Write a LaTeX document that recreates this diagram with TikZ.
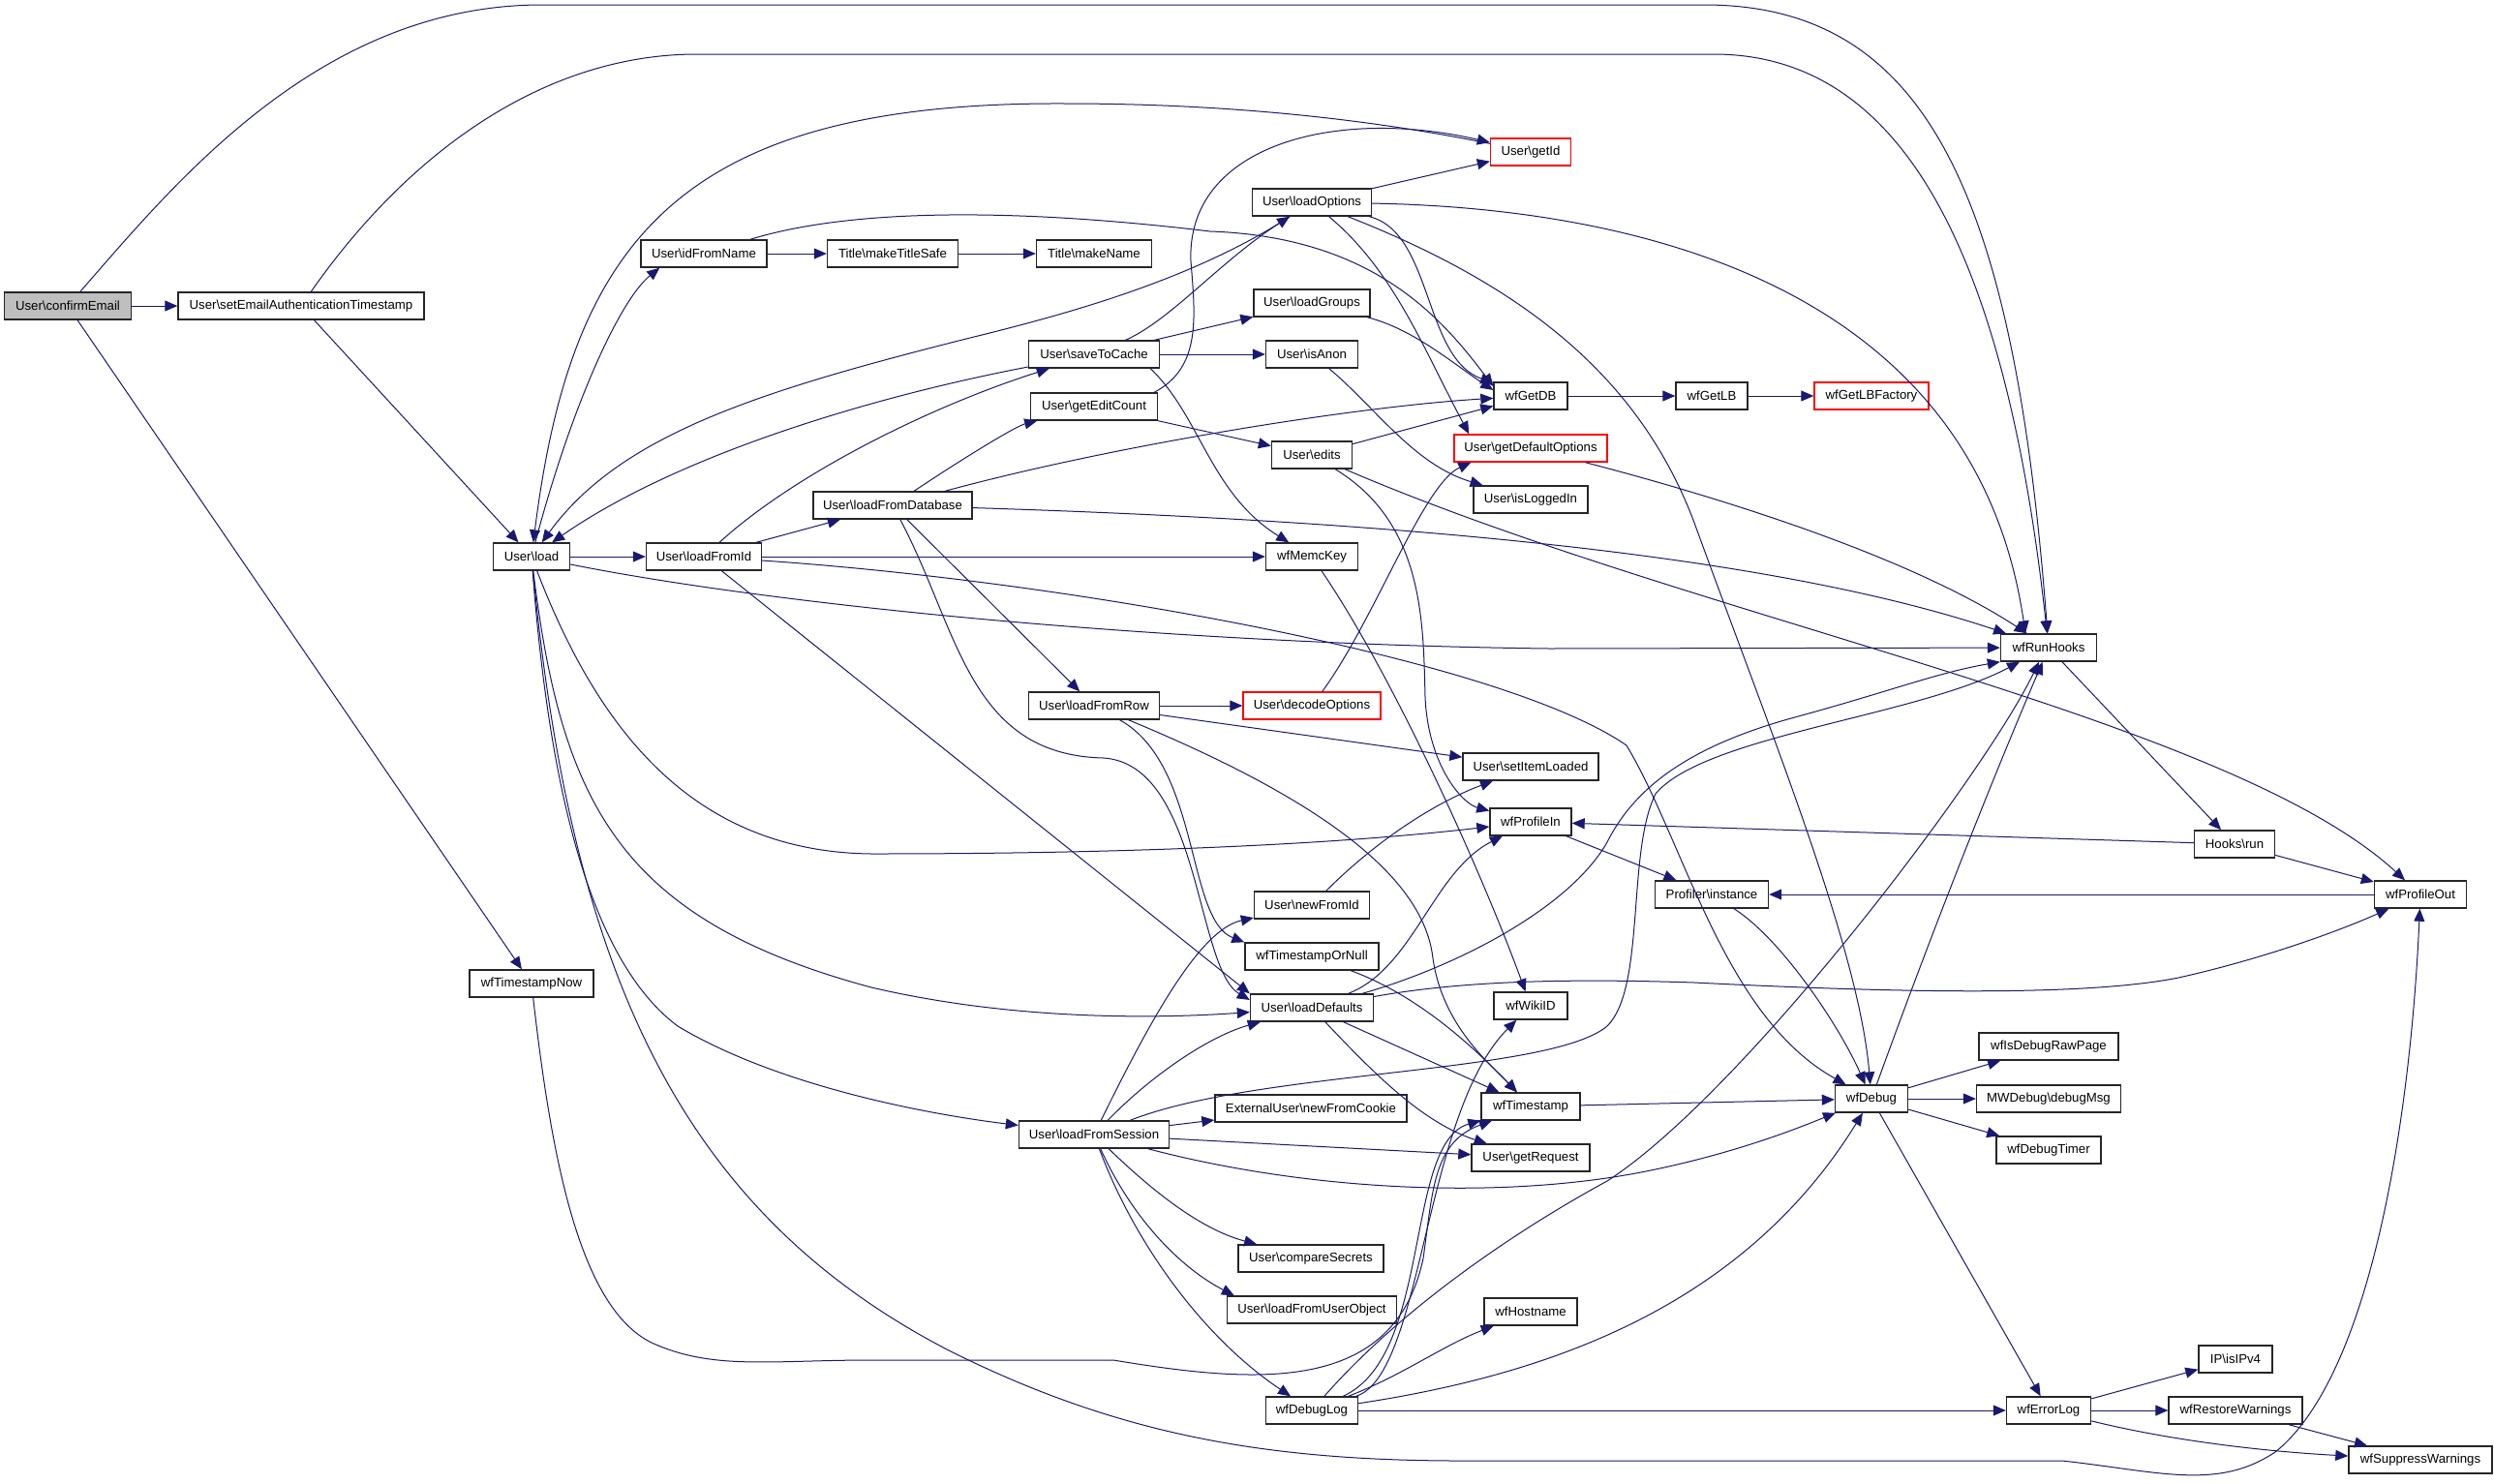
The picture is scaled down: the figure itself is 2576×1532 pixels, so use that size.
\documentclass[tikz,border=0pt]{standalone}
\usepackage{fontspec}
\setmainfont{Liberation Sans}
\usetikzlibrary{arrows.meta,calc}
\definecolor{edgeblue}{RGB}{25,25,112}
\definecolor{boxred}{RGB}{255,0,0}
\definecolor{rootgrey}{RGB}{191,191,191}
\newcommand{\bsl}{\textbackslash}

\begin{document}
\begin{tikzpicture}[x=0.5pt,y=0.5pt,yscale=-1,xscale=1,
  fn/.style={draw=black!85, fill=white, line width=0.7pt, minimum height=14pt, inner sep=0pt, font=\fontsize{6.6}{8}\selectfont},
  fnred/.style={fn, draw=boxred},
  fnroot/.style={fn, fill=rootgrey},
  call/.style={draw=edgeblue, line width=0.5pt, -{Triangle[length=6.5pt,width=5.5pt]}}]
%set diagram left start at 0, and has height of 1532
\useasboundingbox (0,0) rectangle (2576,1532);

% Text Node
\draw (70,316) node [fnroot, minimum width=65.5pt] (confirmEmail) {User\bsl confirmEmail};
% Text Node
\draw (311,316) node [fn, minimum width=127pt] (setEmailAuth) {User\bsl setEmailAuthenticationTimestamp};
% Text Node
\draw (549,575) node [fn, minimum width=39.5pt] (load) {User\bsl load};
% Text Node
\draw (549,1016) node [fn, minimum width=64pt] (wfTimestampNow) {wfTimestampNow};
% Text Node
\draw (727,262) node [fn, minimum width=65pt] (idFromName) {User\bsl idFromName};
% Text Node
\draw (727,575) node [fn, minimum width=59.5pt] (loadFromId) {User\bsl loadFromId};
% Text Node
\draw (922,262) node [fn, minimum width=67.5pt] (makeTitleSafe) {Title\bsl makeTitleSafe};
% Text Node
\draw (922,522) node [fn, minimum width=82pt] (loadFromDatabase) {User\bsl loadFromDatabase};
% Text Node
\draw (1130,262) node [fn, minimum width=59.5pt] (makeName) {Title\bsl makeName};
% Text Node
\draw (1130,366) node [fn, minimum width=67.5pt] (saveToCache) {User\bsl saveToCache};
% Text Node
\draw (1130,420) node [fn, minimum width=65.5pt] (getEditCount) {User\bsl getEditCount};
% Text Node
\draw (1130,729) node [fn, minimum width=67.5pt] (loadFromRow) {User\bsl loadFromRow};
% Text Node
\draw (1130,1172) node [fn, minimum width=77.5pt] (loadFromSession) {User\bsl loadFromSession};
% Text Node
\draw (1355,209) node [fn, minimum width=61.5pt] (loadOptions) {User\bsl loadOptions};
% Text Node
\draw (1355,313) node [fn, minimum width=60pt] (loadGroups) {User\bsl loadGroups};
% Text Node
\draw (1355,366) node [fn, minimum width=47.5pt] (isAnon) {User\bsl isAnon};
% Text Node
\draw (1355,470) node [fn, minimum width=41.5pt] (edits) {User\bsl edits};
% Text Node
\draw (1355,575) node [fn, minimum width=47.5pt] (wfMemcKey) {wfMemcKey};
% Text Node
\draw (1355,729) node [fnred, minimum width=71pt] (decodeOptions) {User\bsl decodeOptions};
% Text Node
\draw (1355,935) node [fn, minimum width=59.5pt] (newFromId) {User\bsl newFromId};
% Text Node
\draw (1355,988) node [fn, minimum width=69pt] (wfTimestampOrNull) {wfTimestampOrNull};
% Text Node
\draw (1355,1041) node [fn, minimum width=63.5pt] (loadDefaults) {User\bsl loadDefaults};
% Text Node
\draw (1354,1145) node [fn, minimum width=99pt] (newFromCookie) {ExternalUser\bsl newFromCookie};
% Text Node
\draw (1354,1300) node [fn, minimum width=75pt] (compareSecrets) {User\bsl compareSecrets};
% Text Node
\draw (1355,1353) node [fn, minimum width=87.5pt] (loadFromUserObject) {User\bsl loadFromUserObject};
% Text Node
\draw (1355,1457) node [fn, minimum width=47.5pt] (wfDebugLog) {wfDebugLog};
% Text Node
\draw (1581,157) node [fnred, minimum width=41.5pt] (getId) {User\bsl getId};
% Text Node
\draw (1581,409) node [fn, minimum width=38pt] (wfGetDB) {wfGetDB};
% Text Node
\draw (1581,463) node [fnred, minimum width=79pt] (getDefaultOptions) {User\bsl getDefaultOptions};
% Text Node
\draw (1581,516) node [fn, minimum width=59pt] (isLoggedIn) {User\bsl isLoggedIn};
% Text Node
\draw (1581,792) node [fn, minimum width=70pt] (setItemLoaded) {User\bsl setItemLoaded};
% Text Node
\draw (1581,849) node [fn, minimum width=42pt] (wfProfileIn) {wfProfileIn};
% Text Node
\draw (1581,1039) node [fn, minimum width=38pt] (wfWikiID) {wfWikiID};
% Text Node
\draw (1581,1143) node [fn, minimum width=51pt] (wfTimestamp) {wfTimestamp};
% Text Node
\draw (1581,1196) node [fn, minimum width=61pt] (getRequest) {User\bsl getRequest};
% Text Node
\draw (1581,1355) node [fn, minimum width=48pt] (wfHostname) {wfHostname};
% Text Node
\draw (1768,409) node [fn, minimum width=37pt] (wfGetLB) {wfGetLB};
% Text Node
\draw (1768,924) node [fn, minimum width=58.5pt] (profilerInstance) {Profiler\bsl instance};
% Text Node
\draw (1933,409) node [fnred, minimum width=59pt] (wfGetLBFactory) {wfGetLBFactory};
% Text Node
\draw (1933,1135) node [fn, minimum width=37.5pt] (wfDebug) {wfDebug};
% Text Node
\draw (2116,669) node [fn, minimum width=49.5pt] (wfRunHooks) {wfRunHooks};
% Text Node
\draw (2116,1081) node [fn, minimum width=72pt] (wfIsDebugRawPage) {wfIsDebugRawPage};
% Text Node
\draw (2116,1135) node [fn, minimum width=74.5pt] (debugMsg) {MWDebug\bsl debugMsg};
% Text Node
\draw (2116,1188) node [fn, minimum width=54pt] (wfDebugTimer) {wfDebugTimer};
% Text Node
\draw (2116,1457) node [fn, minimum width=43.5pt] (wfErrorLog) {wfErrorLog};
% Text Node
\draw (2308,872) node [fn, minimum width=41.5pt] (hooksRun) {Hooks\bsl run};
% Text Node
\draw (2309,1404) node [fn, minimum width=38pt] (isIPv4) {IP\bsl isIPv4};
% Text Node
\draw (2309,1457) node [fn, minimum width=69pt] (wfRestoreWarnings) {wfRestoreWarnings};
% Text Node
\draw (2500,924) node [fn, minimum width=47.5pt] (wfProfileOut) {wfProfileOut};
% Text Node
\draw (2500,1508) node [fn, minimum width=74pt] (wfSuppressWarnings) {wfSuppressWarnings};

%Straight Lines and Curve Lines from User\confirmEmail
\draw [call] (confirmEmail) -- (setEmailAuth);
\draw [call] (confirmEmail) .. controls (180,190) and (330,5) .. (560,5) -- (1760,5) .. controls (1990,5) and (2080,200) .. (wfRunHooks);
\draw [call] (confirmEmail) -- (wfTimestampNow);

%Curve Lines from User\setEmailAuthenticationTimestamp
\draw [call] (setEmailAuth) .. controls (420,160) and (560,56) .. (720,56) -- (1770,56) .. controls (1960,56) and (2070,250) .. (wfRunHooks);
\draw [call] (setEmailAuth) -- (load);

%Curve Lines from User\load
\draw [call] (load) .. controls (590,420) and (640,310) .. ($(idFromName.south west)+(20,0)$);
\draw [call] (load) -- (loadFromId);
\draw [call] (load) .. controls (800,625) and (1200,665) .. (1600,670) -- (wfRunHooks);
\draw [call] (load) .. controls (620,760) and (720,880) .. (900,882) .. controls (1200,882) and (1400,870) .. (wfProfileIn);
\draw [call] (load) .. controls (580,830) and (640,950) .. (900,1020) .. controls (1050,1055) and (1200,1052) .. (loadDefaults);
\draw [call] (load) .. controls (570,850) and (620,1000) .. (700,1060) .. controls (800,1120) and (950,1150) .. (loadFromSession);
\draw [call] (load) .. controls (590,1000) and (700,1250) .. (980,1395) .. controls (1150,1480) and (1300,1508) .. (1500,1509) -- (2130,1509) .. controls (2230,1520) and (2290,1540) .. (2350,1500) .. controls (2450,1420) and (2490,1150) .. (wfProfileOut);

%Curve Lines from wfTimestampNow
\draw [call] (wfTimestampNow) .. controls (570,1200) and (600,1360) .. (680,1390) .. controls (740,1415) and (800,1405) .. (900,1405) -- (1150,1405) .. controls (1300,1430) and (1440,1440) .. (1470,1300) .. controls (1480,1230) and (1480,1180) .. (wfTimestamp);

%Curve Lines from User\idFromName
\draw [call] (idFromName) -- (makeTitleSafe);
\draw [call] (makeTitleSafe) -- (makeName);
\draw [call] (idFromName) .. controls (880,215) and (1050,215) .. (1250,239) .. controls (1420,245) and (1490,330) .. ($(wfGetDB.west)+(0,-10)$);

%Curve Lines from User\loadFromId
\draw [call] (loadFromId) -- (loadFromDatabase);
\draw [call] (loadFromId) .. controls (820,490) and (960,420) .. (saveToCache);
\draw [call] (loadFromId) -- (wfMemcKey);
\draw [call] (loadFromId) .. controls (1100,600) and (1550,680) .. (1680,770) .. controls (1740,870) and (1780,1050) .. (wfDebug);
\draw [call] (loadFromId) -- (loadDefaults.north west);

%Curve Lines from User\loadFromDatabase
\draw [call] (loadFromDatabase) .. controls (1000,470) and (1050,440) .. (getEditCount);
\draw [call] (loadFromDatabase) .. controls (1150,460) and (1400,420) .. (wfGetDB);
\draw [call] (loadFromDatabase) .. controls (1500,540) and (1850,580) .. (wfRunHooks);
\draw [call] (loadFromDatabase) -- (loadFromRow);
\draw [call] (loadFromDatabase) .. controls (990,650) and (1000,780) .. (1140,783) .. controls (1240,790) and (1235,1000) .. ($(loadDefaults.west)+(0,-8)$);

%Curve Lines from User\saveToCache
\draw [call] (saveToCache) .. controls (900,410) and (700,470) .. (load);
\draw [call] (saveToCache) .. controls (1210,330) and (1260,270) .. (loadOptions);
\draw [call] (saveToCache) -- (loadGroups);
\draw [call] (saveToCache) -- (isAnon);
\draw [call] ($(saveToCache.south east)+(-10,0)$) .. controls (1240,430) and (1250,510) .. (wfMemcKey);

%Curve Lines from User\getEditCount
\draw [call] ($(getEditCount.north east)+(-4,0)$) .. controls (1240,380) and (1235,330) .. (1230,270) .. controls (1225,150) and (1380,110) .. (getId);
\draw [call] (getEditCount) -- (edits);

%Curve Lines from User\getId
\draw [call] (getId) .. controls (1400,120) and (1250,107) .. (1100,107) .. controls (700,105) and (590,250) .. (load);

%Curve Lines from User\loadOptions
\draw [call] (loadOptions) .. controls (1230,290) and (1100,325) .. (998,350) .. controls (780,405) and (640,450) .. (load);
\draw [call] (loadOptions) -- (getId);
\draw [call] (loadOptions) .. controls (1700,215) and (2040,300) .. ($(wfRunHooks.north)+(-24,0)$);
\draw [call] (loadOptions) .. controls (1440,280) and (1470,360) .. ($(getDefaultOptions.north west)+(16,0)$);
\draw [call] (loadOptions) .. controls (1560,290) and (1690,380) .. (1750,540) .. controls (1830,760) and (1920,980) .. (wfDebug);
\draw [call] (loadOptions) .. controls (1480,240) and (1470,370) .. (wfGetDB);

%Curve Lines from User\loadGroups, User\isAnon, User\edits
\draw [call] (loadGroups) .. controls (1460,340) and (1500,375) .. ($(wfGetDB.west)+(0,-6)$);
\draw [call] (isAnon) .. controls (1420,420) and (1460,480) .. (isLoggedIn);
\draw [call] (edits) -- (wfGetDB);
\draw [call] (edits) .. controls (1470,540) and (1470,640) .. (1472,720) .. controls (1475,790) and (1510,830) .. (wfProfileIn);
\draw [call] (edits) .. controls (1750,640) and (2300,740) .. (wfProfileOut);

%Curve Lines from wfMemcKey and User\newFromId
\draw [call] (wfMemcKey) .. controls (1440,700) and (1530,900) .. (wfWikiID);
\draw [call] (newFromId) .. controls (1420,870) and (1480,830) .. (setItemLoaded);

%Curve Lines from User\loadFromRow
\draw [call] (loadFromRow) -- (decodeOptions);
\draw [call] (loadFromRow) -- (setItemLoaded);
\draw [call] (loadFromRow) .. controls (1350,820) and (1470,900) .. (1480,990) .. controls (1490,1060) and (1540,1100) .. (wfTimestamp);
\draw [call] (loadFromRow) .. controls (1240,790) and (1225,950) .. (wfTimestampOrNull.north west);

%Curve Lines from User\decodeOptions and User\getDefaultOptions
\draw [call] (decodeOptions) .. controls (1420,640) and (1470,500) .. ($(getDefaultOptions.south west)+(18,0)$);
\draw [call] (getDefaultOptions) .. controls (1800,520) and (1980,580) .. (wfRunHooks);

%Curve Lines from User\loadFromSession
\draw [call] (loadFromSession) .. controls (1190,1050) and (1240,960) .. (newFromId);
\draw [call] (loadFromSession) .. controls (1190,1110) and (1250,1070) .. (loadDefaults);
\draw [call] (loadFromSession) .. controls (1300,1105) and (1600,1110) .. (1660,1060) .. controls (1700,1020) and (1680,880) .. (1710,820) .. controls (1760,760) and (1980,740) .. ($(wfRunHooks.south)+(-30,0)$);
\draw [call] (loadFromSession) -- (newFromCookie);
\draw [call] (loadFromSession) -- (getRequest);
\draw [call] (loadFromSession) .. controls (1350,1230) and (1550,1240) .. (1700,1210) .. controls (1800,1190) and (1870,1160) .. (wfDebug);
\draw [call] (loadFromSession) .. controls (1190,1230) and (1240,1270) .. (compareSecrets);
\draw [call] (loadFromSession) .. controls (1170,1260) and (1220,1310) .. ($(loadFromUserObject.north west)+(8,0)$);
\draw [call] (loadFromSession) .. controls (1170,1280) and (1240,1380) .. (wfDebugLog);

%Curve Lines from User\loadDefaults
\draw [call] (loadDefaults) .. controls (1460,1000) and (1480,900) .. (wfProfileIn);
\draw [call] (loadDefaults) .. controls (1500,1000) and (1620,940) .. (1660,870) .. controls (1690,810) and (1750,770) .. (1850,742) .. controls (1950,715) and (2000,695) .. (wfRunHooks.south west);
\draw [call] (loadDefaults) -- (wfTimestamp);
\draw [call] (loadDefaults) .. controls (1420,1110) and (1470,1160) .. (getRequest);
\draw [call] (loadDefaults) .. controls (1500,1015) and (1600,1010) .. (1750,1015) .. controls (1950,1025) and (2150,1030) .. (2250,1010) .. controls (2340,990) and (2420,960) .. (wfProfileOut);

%Curve Lines from wfTimestampOrNull
\draw [call] (wfTimestampOrNull) .. controls (1470,1030) and (1530,1090) .. (wfTimestamp);

%Curve Lines from wfDebugLog
\draw [call] (wfDebugLog) .. controls (1470,1420) and (1470,1150) .. (wfWikiID);
\draw [call] (wfDebugLog) .. controls (1480,1400) and (1450,1180) .. (wfTimestamp);
\draw [call] (wfDebugLog) .. controls (1450,1420) and (1490,1390) .. (wfHostname);
\draw [call] (wfDebugLog) .. controls (1600,1420) and (1800,1350) .. (wfDebug);
\draw [call] (wfDebugLog) -- (wfErrorLog);
\draw [call] (wfDebugLog) .. controls (1440,1360) and (1550,1280) .. (1660,1220) .. controls (1800,1130) and (2050,800) .. ($(wfRunHooks.south)+(-10,0)$);

%Straight Lines of the right side
\draw [call] (wfGetDB) -- (wfGetLB);
\draw [call] (wfGetLB) -- (wfGetLBFactory);
\draw [call] (wfTimestamp) -- (wfDebug);
\draw [call] (profilerInstance) .. controls (1840,970) and (1900,1060) .. (wfDebug);
\draw [call] (wfProfileIn) -- (profilerInstance);
\draw [call] (wfProfileOut) -- (profilerInstance);
\draw [call] (wfRunHooks) -- (hooksRun);
\draw [call] (hooksRun) -- (wfProfileIn);
\draw [call] (hooksRun) -- (wfProfileOut);
\draw [call] (wfDebug) .. controls (2000,950) and (2060,800) .. (wfRunHooks);
\draw [call] (wfDebug) -- (wfIsDebugRawPage);
\draw [call] (wfDebug) -- (debugMsg);
\draw [call] (wfDebug) -- (wfDebugTimer);
\draw [call] (wfDebug) -- (wfErrorLog);
\draw [call] (wfErrorLog) -- (isIPv4);
\draw [call] (wfErrorLog) -- (wfRestoreWarnings);
\draw [call] (wfErrorLog) .. controls (2250,1490) and (2350,1500) .. (wfSuppressWarnings);
\draw [call] (wfRestoreWarnings) -- (wfSuppressWarnings);

\end{tikzpicture}
\end{document}
